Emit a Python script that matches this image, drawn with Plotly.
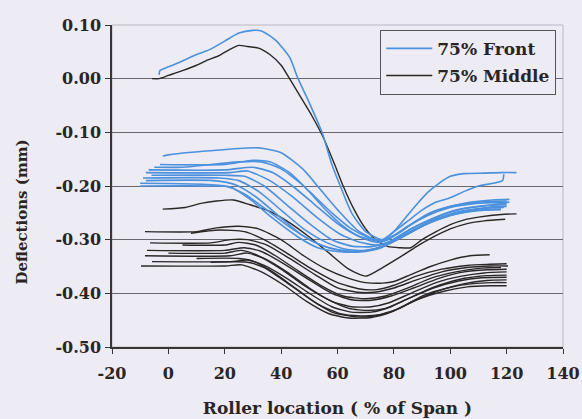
import plotly.graph_objects as go

# ---------------- data ----------------
# 75% Front (blue) curves
front_1_x = [-3.3, -3, 0, 5, 10, 15, 20, 25, 30, 33, 38, 43, 46, 50, 54.5, 58, 61, 65, 70, 76, 80, 84, 88, 92, 96, 100, 105, 112, 118, 123.5]
front_1_y = [0.007, 0.015, 0.022, 0.033, 0.045, 0.055, 0.07, 0.085, 0.09, 0.089, 0.072, 0.04, 0.0, -0.045, -0.1, -0.16, -0.2, -0.25, -0.285, -0.3, -0.285, -0.26, -0.235, -0.212, -0.195, -0.182, -0.177, -0.176, -0.175, -0.175]
front_2_x = [-2, 0, 18, 32, 40, 48, 54, 61, 67, 72, 76, 80, 85, 90, 95, 100, 105, 110, 118.5, 119]
front_2_y = [-0.144, -0.142, -0.133, -0.129, -0.138, -0.17, -0.207, -0.25, -0.282, -0.297, -0.3, -0.285, -0.265, -0.245, -0.23, -0.222, -0.21, -0.2, -0.19, -0.178]
front_3_x = [-5, 5, 15, 25, 33, 40, 48, 55, 62, 68, 74, 78, 85, 92, 100, 110, 120]
front_3_y = [-0.165, -0.165, -0.16, -0.155, -0.155, -0.168, -0.2, -0.24, -0.275, -0.295, -0.305, -0.3, -0.275, -0.252, -0.238, -0.23, -0.228]
front_4_x = [-7, 20, 30, 37, 44, 52, 60, 67, 74, 78, 85, 92, 100, 110, 121]
front_4_y = [-0.17, -0.17, -0.165, -0.175, -0.2, -0.235, -0.27, -0.292, -0.302, -0.298, -0.275, -0.255, -0.24, -0.232, -0.23]
front_5_x = [-8, 22, 28, 36, 44, 53, 61, 68, 74, 78, 86, 94, 102, 112, 120]
front_5_y = [-0.175, -0.175, -0.172, -0.19, -0.22, -0.26, -0.29, -0.305, -0.31, -0.305, -0.28, -0.26, -0.245, -0.237, -0.235]
front_6_x = [-6, 20, 27, 34, 42, 50, 58, 65, 72, 78, 86, 95, 105, 115, 120]
front_6_y = [-0.18, -0.18, -0.182, -0.2, -0.235, -0.27, -0.3, -0.312, -0.313, -0.305, -0.28, -0.258, -0.242, -0.235, -0.232]
front_7_x = [-9, 18, 25, 32, 40, 48, 56, 63, 70, 76, 84, 93, 103, 113, 120]
front_7_y = [-0.185, -0.185, -0.19, -0.21, -0.245, -0.28, -0.305, -0.318, -0.32, -0.312, -0.29, -0.265, -0.248, -0.24, -0.238]
front_8_x = [-8, 16, 24, 31, 39, 47, 54, 61, 68, 75, 83, 92, 102, 112, 119]
front_8_y = [-0.19, -0.19, -0.198, -0.22, -0.255, -0.29, -0.31, -0.32, -0.322, -0.315, -0.295, -0.27, -0.25, -0.242, -0.24]
front_9_x = [-10, 20, 27, 35, 44, 52, 59, 66, 73, 81, 90, 100, 110, 118]
front_9_y = [-0.195, -0.2, -0.215, -0.245, -0.28, -0.305, -0.318, -0.322, -0.318, -0.3, -0.275, -0.255, -0.245, -0.243]
front_10_x = [-10, 15, 22, 29, 37, 46, 53, 60, 68, 75, 83, 92, 102, 112, 118]
front_10_y = [-0.2, -0.2, -0.202, -0.225, -0.26, -0.295, -0.315, -0.322, -0.323, -0.316, -0.295, -0.27, -0.252, -0.245, -0.244]
front_11_x = [-3, 20, 30, 36, 43, 50, 58, 65, 71, 75, 81, 88, 96, 105, 115, 121]
front_11_y = [-0.16, -0.16, -0.152, -0.155, -0.175, -0.21, -0.25, -0.28, -0.296, -0.302, -0.29, -0.265, -0.245, -0.232, -0.226, -0.225]

# 75% Middle (black) curves
middle_1_x = [-5.8, -3.3, 0, 5, 10, 14, 18, 22, 25, 28, 32, 36, 40, 43, 47, 51, 55, 59, 62, 66, 70, 74, 78, 82, 86, 90, 95, 100, 105, 110, 118, 123.5]
middle_1_y = [0.0, 0.0, 0.006, 0.015, 0.025, 0.035, 0.043, 0.055, 0.062, 0.06, 0.057, 0.045, 0.025, 0.0, -0.035, -0.07, -0.11, -0.16, -0.2, -0.245, -0.28, -0.302, -0.313, -0.315, -0.315, -0.3, -0.285, -0.272, -0.263, -0.258, -0.253, -0.252]
middle_2_x = [-2, 6, 12, 17, 23, 29, 35, 42, 50, 57, 64, 70, 76, 82, 88, 94, 100, 106, 112, 119.5]
middle_2_y = [-0.243, -0.24, -0.232, -0.228, -0.226, -0.235, -0.245, -0.265, -0.295, -0.325, -0.355, -0.368, -0.352, -0.333, -0.313, -0.295, -0.28, -0.27, -0.265, -0.262]
middle_3_x = [-8.3, 10, 17, 25, 32, 40, 48, 56, 64, 70, 76, 80, 86, 93, 100, 107, 114]
middle_3_y = [-0.285, -0.285, -0.278, -0.275, -0.28, -0.3, -0.33, -0.355, -0.372, -0.38, -0.381, -0.378, -0.365, -0.35, -0.338, -0.33, -0.328]
middle_4_x = [-6.5, 15, 22, 28, 35, 43, 52, 60, 67, 73, 80, 88, 97, 106, 114, 120.5]
middle_4_y = [-0.306, -0.306, -0.3, -0.3, -0.31, -0.335, -0.365, -0.39, -0.398, -0.398, -0.39, -0.375, -0.36, -0.352, -0.349, -0.349]
middle_5_x = [-7.6, 20, 27, 33, 41, 50, 58, 65, 72, 79, 87, 96, 105, 113, 120]
middle_5_y = [-0.32, -0.32, -0.315, -0.322, -0.345, -0.375, -0.4, -0.412, -0.413, -0.405, -0.39, -0.372, -0.36, -0.356, -0.355]
middle_6_x = [-8.3, 22, 28, 34, 42, 50, 58, 65, 72, 78, 86, 95, 104, 112, 120]
middle_6_y = [-0.33, -0.33, -0.325, -0.335, -0.36, -0.39, -0.415, -0.425, -0.425, -0.418, -0.4, -0.38, -0.368, -0.362, -0.36]
middle_7_x = [-5.8, 22, 28, 34, 42, 50, 58, 65, 72, 79, 87, 96, 105, 113, 120]
middle_7_y = [-0.341, -0.341, -0.338, -0.348, -0.372, -0.4, -0.425, -0.435, -0.435, -0.425, -0.405, -0.385, -0.372, -0.367, -0.366]
middle_8_x = [-9.7, 20, 26, 33, 41, 49, 57, 64, 72, 79, 87, 96, 105, 113, 120]
middle_8_y = [-0.349, -0.349, -0.347, -0.36, -0.385, -0.415, -0.438, -0.446, -0.445, -0.435, -0.415, -0.395, -0.382, -0.376, -0.375]
middle_9_x = [5, 20, 25, 31, 38, 46, 54, 62, 70, 77, 85, 93, 102, 111, 118]
middle_9_y = [-0.31, -0.31, -0.305, -0.31, -0.33, -0.358, -0.385, -0.405, -0.41, -0.405, -0.39, -0.372, -0.36, -0.353, -0.352]
middle_10_x = [0, 20, 26, 32, 40, 48, 56, 64, 71, 77, 85, 94, 103, 111, 120]
middle_10_y = [-0.325, -0.325, -0.32, -0.33, -0.355, -0.385, -0.41, -0.428, -0.432, -0.428, -0.41, -0.39, -0.377, -0.371, -0.37]
middle_11_x = [10, 25, 30, 37, 45, 53, 61, 68, 75, 82, 90, 99, 108, 115, 120]
middle_11_y = [-0.335, -0.335, -0.34, -0.36, -0.39, -0.42, -0.438, -0.442, -0.44, -0.428, -0.405, -0.39, -0.382, -0.38, -0.38]
middle_12_x = [15, 28, 34, 42, 50, 58, 65, 72, 80, 88, 97, 106, 114, 120]
middle_12_y = [-0.342, -0.342, -0.352, -0.38, -0.41, -0.435, -0.443, -0.443, -0.432, -0.412, -0.397, -0.388, -0.386, -0.386]
middle_13_x = [8, 18, 27, 34, 42, 51, 60, 68, 74, 80, 88, 97, 106, 113, 120]
middle_13_y = [-0.288, -0.282, -0.285, -0.3, -0.325, -0.355, -0.38, -0.392, -0.393, -0.385, -0.368, -0.355, -0.348, -0.346, -0.345]

front_curves = [(front_1_x, front_1_y), (front_2_x, front_2_y), (front_3_x, front_3_y),
                (front_4_x, front_4_y), (front_5_x, front_5_y), (front_6_x, front_6_y),
                (front_7_x, front_7_y), (front_8_x, front_8_y), (front_9_x, front_9_y),
                (front_10_x, front_10_y), (front_11_x, front_11_y)]
middle_curves = [(middle_1_x, middle_1_y), (middle_2_x, middle_2_y), (middle_3_x, middle_3_y),
                 (middle_4_x, middle_4_y), (middle_5_x, middle_5_y), (middle_6_x, middle_6_y),
                 (middle_7_x, middle_7_y), (middle_8_x, middle_8_y), (middle_9_x, middle_9_y),
                 (middle_10_x, middle_10_y), (middle_11_x, middle_11_y), (middle_12_x, middle_12_y),
                 (middle_13_x, middle_13_y)]

series_names = ["75% Front", "75% Middle"]
x_tick_vals = [-20, 0, 20, 40, 60, 80, 100, 120, 140]
x_tick_text = ["-20", "0", "20", "40", "60", "80", "100", "120", "140"]
y_tick_vals = [0.10, 0.00, -0.10, -0.20, -0.30, -0.40, -0.50]
y_tick_text = ["0.10", "0.00", "-0.10", "-0.20", "-0.30", "-0.40", "-0.50"]
x_title = "Roller location ( % of Span )"
y_title = "Deflections (mm)"

# ---------------- figure ----------------
BLUE = "#4b91de"
BLACK = "#2b2727"
BG = "#edebf3"
TXT = "#2a2525"
FONT = "DejaVu Serif"

fig = go.Figure()
for i, (xs, ys) in enumerate(middle_curves):
    fig.add_trace(go.Scatter(x=xs, y=ys, mode="lines", name=series_names[1],
                             legendgroup="m", showlegend=(i == 0), legendrank=2,
                             line=dict(color=BLACK, width=1.4, shape="spline", smoothing=0.6)))
for i, (xs, ys) in enumerate(front_curves):
    fig.add_trace(go.Scatter(x=xs, y=ys, mode="lines", name=series_names[0],
                             legendgroup="f", showlegend=(i == 0), legendrank=1,
                             line=dict(color=BLUE, width=1.6, shape="spline", smoothing=0.6)))

fig.update_layout(
    width=582, height=419,
    margin=dict(l=112, r=19, t=25, b=72),
    paper_bgcolor=BG, plot_bgcolor=BG,
    font=dict(family=FONT, size=16, color=TXT),
    showlegend=True,
    legend=dict(x=0.985, y=0.985, xanchor="right", yanchor="top",
                bgcolor=BG, bordercolor="#555555", borderwidth=1,
                itemwidth=46,
                font=dict(family=FONT, size=17, color=TXT, weight="bold"),
                traceorder="grouped", tracegroupgap=2),
    shapes=[dict(type="rect", xref="paper", yref="paper", x0=0, x1=1, y0=0, y1=1,
                 line=dict(color="#b8b6c0", width=1), layer="below")],
    annotations=[dict(text=y_title, xref="paper", yref="paper", x=-0.2, y=0.42,
                      xanchor="center", yanchor="middle", textangle=-90, showarrow=False,
                      font=dict(family=FONT, size=15, color=TXT, weight="bold"))],
)
fig.update_xaxes(range=[-20, 140], tickvals=x_tick_vals, ticktext=x_tick_text,
                 automargin=False,
                 showgrid=False, zeroline=False, showline=True, linecolor="#3a3535", linewidth=1.5,
                 ticks="outside", ticklen=5, tickcolor="#3a3535",
                 ticklabelstandoff=6,
                 tickfont=dict(family=FONT, size=16, weight="bold"),
                 title=dict(text=x_title, standoff=20,
                            font=dict(family=FONT, size=17, weight="bold")))
fig.update_yaxes(range=[-0.50, 0.10], tickvals=y_tick_vals, ticktext=y_tick_text,
                 automargin=False,
                 showgrid=True, gridcolor="#6a6670", gridwidth=1, zeroline=False,
                 showline=True, linecolor="#3a3535", linewidth=1.5,
                 ticks="outside", ticklen=5, tickcolor="#3a3535",
                 ticklabelstandoff=1,
                 tickfont=dict(family=FONT, size=16, weight="bold"))

fig.write_html("out.html", config={"displayModeBar": False},
               post_script="document.body.style.margin='0';document.body.style.background='%s';" % BG)
